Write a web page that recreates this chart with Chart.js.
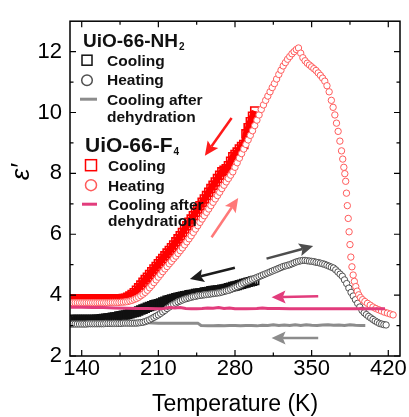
<!DOCTYPE html>
<html>
<head>
<meta charset="utf-8">
<script src="https://cdn.jsdelivr.net/npm/chart.js@4"></script>
<style>
  html, body { margin: 0; padding: 0; background: #fff; }
  canvas { display: block; }
</style>
</head>
<body>
<canvas id="myChart" width="409" height="417"></canvas>
<script>
// temperature grid (K) shared by the densely sampled curves
var tGrid = [
  130,132,134,136,138,140,142,144,146,148,
  150,152,154,156,158,160,162,164,166,168,
  170,172,174,176,178,180,182,184,186,188,
  190,192,194,196,198,200,202,204,206,208,
  210,212,214,216,218,220,222,224,226,228,
  230,232,234,236,238,240,242,244,246,248,
  250,252,254,256,258,260,262,264,266,268,
  270,272,274,276,278,280,282,284,286,288,
  290,292,294,296,298,300,302,304,306,308,
  310,312,314,316,318,320,322,324,326,328,
  330,332,334,336,338,340,342,344,346,348,
  350,352,354,356,358,360,362,364,366,368,
  370,372,374,376,378,380,382,384,386,388,
  390,392,394,396,398,400,402,404,406,408,
  410,412,414,416,418
];

// UiO-66-F4, heating (130 - 366 K on tGrid)
var f4Heating = [
  3.75,3.75,3.75,3.75,3.75,3.75,3.75,3.75,3.75,3.75,
  3.75,3.75,3.75,3.75,3.75,3.75,3.75,3.75,3.76,3.76,
  3.76,3.76,3.76,3.77,3.77,3.78,3.79,3.81,3.83,3.86,
  3.89,3.93,3.98,4.03,4.09,4.16,4.24,4.32,4.41,4.5,
  4.59,4.68,4.77,4.86,4.94,5.03,5.11,5.2,5.28,5.37,
  5.46,5.55,5.65,5.75,5.85,5.95,6.06,6.17,6.28,6.39,
  6.5,6.61,6.72,6.83,6.94,7.05,7.16,7.27,7.38,7.5,
  7.61,7.72,7.83,7.94,8.05,8.2,8.35,8.5,8.65,8.8,
  8.95,9.1,9.25,9.4,9.57,9.75,9.92,10.1,10.25,10.4,
  10.54,10.68,10.82,10.95,11.1,11.25,11.39,11.53,11.64,11.75,
  11.84,11.93,12.0,12.07,12.12,11.95,11.8,11.7,11.62,11.56,
  11.5,11.44,11.38,11.3,11.22,11.13,11.03,10.88,10.68
];
// UiO-66-F4, heating, sparse high-temperature tail
var f4HeatingTailT = [
  368,369.6,371.2,372.7,374.2,375.8,377.3,378.4,379.4,380.3,
  381.1,381.8,382.6,383.4,384.2,385.0,385.8,386.8,387.9,389.0,
  390.3,391.6,393.0,394.6,396.5,398.6,401,403.5,406,408.6,
  411.2,413.8,416.5,419.2,421.8,424.4
];
var f4HeatingTail = [
  10.4,10.17,9.92,9.65,9.38,9.06,8.74,8.47,8.2,7.99,
  7.74,7.35,6.94,6.52,6.08,5.66,5.25,4.93,4.66,4.45,
  4.28,4.13,4.01,3.92,3.85,3.79,3.73,3.67,3.61,3.56,
  3.52,3.48,3.44,3.41,3.38,3.35
];
// UiO-66-F4, cooling (130 - 298 K on tGrid)
var f4Cooling = [
  3.87,3.87,3.87,3.87,3.87,3.87,3.87,3.87,3.87,3.87,
  3.87,3.87,3.87,3.87,3.87,3.87,3.87,3.87,3.87,3.87,
  3.87,3.87,3.88,3.88,3.89,3.9,3.93,3.97,4.02,4.08,
  4.16,4.24,4.33,4.42,4.51,4.59,4.68,4.77,4.86,4.94,
  5.03,5.12,5.2,5.29,5.38,5.47,5.56,5.65,5.75,5.85,
  5.95,6.06,6.17,6.28,6.39,6.5,6.61,6.72,6.83,6.94,
  7.05,7.16,7.27,7.38,7.5,7.61,7.72,7.83,7.94,8.05,
  8.1,8.15,8.25,8.4,8.55,8.62,8.7,8.8,8.88,8.95,
  9.3,9.5,9.7,9.88,10.05
];
// UiO-66-NH2, cooling (130 - 298 K on tGrid)
var nh2Cooling = [
  3.2,3.2,3.2,3.2,3.2,3.2,3.2,3.2,3.2,3.2,
  3.2,3.2,3.21,3.21,3.22,3.23,3.24,3.25,3.26,3.27,
  3.28,3.29,3.31,3.32,3.34,3.35,3.37,3.39,3.41,3.43,
  3.45,3.48,3.51,3.54,3.57,3.6,3.63,3.65,3.68,3.7,
  3.72,3.74,3.77,3.8,3.83,3.85,3.87,3.89,3.91,3.93,
  3.95,3.96,3.98,3.99,4.01,4.02,4.03,4.05,4.06,4.07,
  4.08,4.1,4.11,4.12,4.14,4.15,4.16,4.17,4.18,4.19,
  4.2,4.22,4.24,4.26,4.28,4.3,4.32,4.34,4.36,4.38,
  4.4,4.42,4.44,4.46,4.48
];
// UiO-66-NH2, heating (130 - 418 K on tGrid)
var nh2Heating = [
  3.05,3.05,3.05,3.05,3.05,3.05,3.05,3.05,3.06,3.06,
  3.06,3.06,3.06,3.06,3.06,3.06,3.07,3.07,3.07,3.07,
  3.07,3.07,3.07,3.07,3.08,3.08,3.08,3.08,3.08,3.08,
  3.08,3.09,3.1,3.11,3.13,3.16,3.19,3.23,3.27,3.31,
  3.35,3.4,3.45,3.5,3.56,3.61,3.66,3.7,3.74,3.78,
  3.81,3.84,3.87,3.89,3.91,3.93,3.95,3.96,3.98,3.99,
  4.0,4.01,4.02,4.03,4.04,4.05,4.06,4.07,4.08,4.1,
  4.12,4.14,4.16,4.19,4.22,4.25,4.28,4.32,4.36,4.4,
  4.43,4.46,4.49,4.52,4.55,4.58,4.61,4.64,4.67,4.7,
  4.73,4.76,4.79,4.82,4.85,4.88,4.91,4.94,4.96,4.98,
  5.0,5.03,5.06,5.09,5.11,5.13,5.14,5.14,5.13,5.12,
  5.11,5.1,5.08,5.07,5.05,5.03,5.01,4.98,4.95,4.92,
  4.89,4.83,4.76,4.69,4.62,4.5,4.38,4.23,4.09,3.97,
  3.85,3.73,3.61,3.5,3.42,3.36,3.3,3.25,3.2,3.15,
  3.11,3.07,3.05,3.03,3.02
];
// cooling after dehydration
var nh2DehydT = [130,140,150,160,170,180,190,200,210,220,230,240,246,249,
  255,260,265,270,275,280,285,290,295,300,305,310,315,320,325,330,
  335,340,345,350,355,360,365,370,375,380,385,390,395,399];
var nh2Dehyd = [3.07,3.07,3.08,3.08,3.09,3.09,3.09,3.09,3.08,3.08,3.08,3.08,3.08,3.0,
  2.99,2.99,3.0,2.99,3.0,3.0,2.99,3.0,3.0,2.99,3.01,3.0,3.03,3.0,3.02,3.0,
  3.03,3.0,3.03,3.01,3.0,3.02,3.03,3.01,3.02,3.0,3.03,3.01,3.0,3.0];
var f4DehydT = [130,140,150,160,170,180,190,200,210,
  215,220,225,230,235,240,245,250,255,260,265,270,275,280,
  290,300,305,310,320,330,340,350,360,370,380,390,400,410,417];
var f4Dehyd = [3.6,3.6,3.59,3.59,3.58,3.57,3.56,3.56,3.55,
  3.56,3.59,3.58,3.59,3.56,3.55,3.55,3.56,3.58,3.57,3.59,3.56,3.58,3.55,
  3.55,3.56,3.58,3.56,3.56,3.55,3.55,3.55,3.55,3.55,3.55,3.55,3.55,3.55,3.55];

var xTicks = [140, 210, 280, 350, 420];
var xMinor = [175, 245, 315, 385];
var yTicks = [2, 4, 6, 8, 10, 12];
var yMinor = [3, 5, 7, 9, 11];

// direction arrows, in data units
var arrows = [
  {from: [276.9, 9.82], to: [252.5, 8.58], color: '#ff1a1a'},
  {from: [258.6, 5.90], to: [282.9, 7.19], color: '#ff7878'},
  {from: [279.9, 4.90], to: [238.8, 4.53], color: '#1c1c1c'},
  {from: [308.8, 5.20], to: [351.4, 5.61], color: '#4d4d4d'},
  {from: [356.0, 3.96], to: [313.4, 3.93], color: '#e23c7c'},
  {from: [356.0, 2.59], to: [313.4, 2.59], color: '#8c8c8c'}
];

var FONT = '"Liberation Sans", Arial, sans-serif';
var RED = '#ff0000', LIGHTRED = '#ff5c5c', PINK = '#e23c7c';
var BLACK = '#111111', DARKGREY = '#505050', GREY = '#8c8c8c';

function pts(xs, ys) {
  return ys.map(function (v, i) { return {x: xs[i], y: v}; });
}

var decor = {
  id: 'decor',
  afterDatasetsDraw: function (chart) {
    var ctx = chart.ctx, a = chart.chartArea;
    var sx = chart.scales.x, sy = chart.scales.y;
    ctx.save();

    // arrows
    arrows.forEach(function (ar) {
      var x0 = sx.getPixelForValue(ar.from[0]), y0 = sy.getPixelForValue(ar.from[1]);
      var x1 = sx.getPixelForValue(ar.to[0]), y1 = sy.getPixelForValue(ar.to[1]);
      var ang = Math.atan2(y1 - y0, x1 - x0), hl = 14, hw = 6.5;
      var bx = x1 - hl * Math.cos(ang) * 0.8, by = y1 - hl * Math.sin(ang) * 0.8;
      ctx.strokeStyle = ar.color; ctx.fillStyle = ar.color; ctx.lineWidth = 2.5;
      ctx.beginPath(); ctx.moveTo(x0, y0); ctx.lineTo(bx, by); ctx.stroke();
      ctx.beginPath();
      ctx.moveTo(x1, y1);
      ctx.lineTo(x1 - hl * Math.cos(ang) + hw * Math.sin(ang), y1 - hl * Math.sin(ang) - hw * Math.cos(ang));
      ctx.lineTo(bx, by);
      ctx.lineTo(x1 - hl * Math.cos(ang) - hw * Math.sin(ang), y1 - hl * Math.sin(ang) + hw * Math.cos(ang));
      ctx.closePath(); ctx.fill();
    });

    // legend
    var L = a.left, T = a.top;
    ctx.fillStyle = BLACK;
    ctx.textAlign = 'left'; ctx.textBaseline = 'alphabetic';
    ctx.font = 'bold 19px ' + FONT;
    ctx.fillText('UiO-66-NH', L + 13, T + 26);
    var w1 = ctx.measureText('UiO-66-NH').width;
    ctx.font = 'bold 21px ' + FONT;
    ctx.fillText('UiO-66-F', L + 15, T + 131);
    var w2 = ctx.measureText('UiO-66-F').width;
    ctx.font = 'bold 10px ' + FONT;
    ctx.fillText('2', L + 13 + w1 + 1, T + 29);
    ctx.fillText('4', L + 15 + w2 + 1, T + 134);

    ctx.font = 'bold 15.5px ' + FONT;
    ctx.fillText('Cooling', L + 37, T + 44.5);
    ctx.fillText('Heating', L + 37, T + 64);
    ctx.fillText('Cooling after', L + 37, T + 83.5);
    ctx.fillText('dehydration', L + 37, T + 100.5);
    ctx.fillText('Cooling', L + 38, T + 149.5);
    ctx.fillText('Heating', L + 38, T + 169.5);
    ctx.fillText('Cooling after', L + 38, T + 188.5);
    ctx.fillText('dehydration', L + 38, T + 204.5);

    ctx.lineWidth = 1.5;
    ctx.strokeStyle = BLACK;
    ctx.strokeRect(L + 12, T + 34, 10, 10);
    ctx.strokeStyle = DARKGREY;
    ctx.beginPath(); ctx.arc(L + 17, T + 59, 5.3, 0, 2 * Math.PI); ctx.stroke();
    ctx.strokeStyle = RED;
    ctx.strokeRect(L + 15.5, T + 138.5, 11, 11);
    ctx.strokeStyle = LIGHTRED;
    ctx.beginPath(); ctx.arc(L + 21, T + 164, 5.5, 0, 2 * Math.PI); ctx.stroke();
    ctx.lineWidth = 3;
    ctx.strokeStyle = GREY;
    ctx.beginPath(); ctx.moveTo(L + 10, T + 78); ctx.lineTo(L + 27, T + 78); ctx.stroke();
    ctx.strokeStyle = PINK;
    ctx.beginPath(); ctx.moveTo(L + 12, T + 183); ctx.lineTo(L + 27, T + 183); ctx.stroke();

    // frame with inward ticks on all four sides
    ctx.strokeStyle = '#000'; ctx.lineWidth = 1.5;
    ctx.strokeRect(a.left, a.top, a.right - a.left, a.bottom - a.top);
    ctx.lineWidth = 1.2;
    ctx.beginPath();
    xTicks.concat(xMinor).forEach(function (v) {
      var len = xTicks.indexOf(v) >= 0 ? 6 : 3.5;
      var px = sx.getPixelForValue(v);
      ctx.moveTo(px, a.bottom); ctx.lineTo(px, a.bottom - len);
      ctx.moveTo(px, a.top); ctx.lineTo(px, a.top + len);
    });
    yTicks.concat(yMinor).forEach(function (v) {
      var len = yTicks.indexOf(v) >= 0 ? 6 : 3.5;
      var py = sy.getPixelForValue(v);
      ctx.moveTo(a.left, py); ctx.lineTo(a.left + len, py);
      ctx.moveTo(a.right, py); ctx.lineTo(a.right - len, py);
    });
    ctx.stroke();

    // y axis title
    ctx.translate(22, 172);
    ctx.rotate(-Math.PI / 2);
    ctx.textAlign = 'center'; ctx.textBaseline = 'middle';
    ctx.fillStyle = '#000';
    ctx.font = 'italic 26px ' + FONT;
    ctx.fillText('\u03b5\u2032', 0, 0);
    ctx.restore();
  }
};

var ctx = document.getElementById('myChart').getContext('2d');
var myChart = new Chart(ctx, {
  type: 'scatter',
  data: {
    datasets: [{
        label: 'UiO-66-F4 cooling after dehydration',
        data: pts(f4DehydT, f4Dehyd),
        showLine: true, borderColor: PINK, borderWidth: 3, pointRadius: 0,
        order: 0, clip: 0
      }, {
        label: 'UiO-66-F4 heating',
        data: pts(tGrid, f4Heating).concat(pts(f4HeatingTailT, f4HeatingTail)),
        pointStyle: 'circle', pointRadius: 3.2, pointBorderWidth: 1,
        pointBorderColor: LIGHTRED, pointBackgroundColor: '#ffffff',
        order: 1, clip: 0
      }, {
        label: 'UiO-66-F4 cooling',
        data: pts(tGrid, f4Cooling),
        showLine: true, borderColor: RED, borderWidth: 6.5,
        pointStyle: 'rect', pointRadius: 5.6, pointBorderWidth: 1.6,
        pointBorderColor: RED, pointBackgroundColor: 'rgba(0,0,0,0)',
        order: 2, clip: 0
      }, {
        label: 'UiO-66-NH2 heating',
        data: pts(tGrid, nh2Heating),
        pointStyle: 'circle', pointRadius: 3.2, pointBorderWidth: 1,
        pointBorderColor: DARKGREY, pointBackgroundColor: '#ffffff',
        order: 3, clip: 0
      }, {
        label: 'UiO-66-NH2 cooling',
        data: pts(tGrid, nh2Cooling),
        showLine: true, borderColor: BLACK, borderWidth: 6.5,
        pointStyle: 'rect', pointRadius: 5.6, pointBorderWidth: 1.6,
        pointBorderColor: BLACK, pointBackgroundColor: 'rgba(0,0,0,0)',
        order: 4, clip: 0
      }, {
        label: 'UiO-66-NH2 cooling after dehydration',
        data: pts(nh2DehydT, nh2Dehyd),
        showLine: true, borderColor: GREY, borderWidth: 3, pointRadius: 0,
        order: 5, clip: 0
      }
    ]
  },
  options: {
    responsive: false,
    animation: false,
    devicePixelRatio: 1,
    events: [],
    layout: { padding: { top: 14, right: 9, left: 0, bottom: 0 } },
    plugins: { legend: { display: false }, tooltip: { enabled: false } },
    scales: {
      x: {
        type: 'linear', min: 129.3, max: 430.7,
        afterBuildTicks: function (s) { s.ticks = xTicks.map(function (v) { return {value: v}; }); },
        afterFit: function (s) { s.height = 61; },
        grid: { display: false, drawTicks: false },
        border: { display: false },
        ticks: { padding: 0, color: '#000', maxRotation: 0, autoSkip: false,
                 font: { family: FONT, size: 22 } },
        title: { display: true, text: 'Temperature (K)', color: '#000',
                 font: { family: FONT, size: 23, lineHeight: 1.0 }, padding: { top: 0, bottom: 1 } }
      },
      y: {
        type: 'linear', min: 2, max: 13,
        afterBuildTicks: function (s) { s.ticks = yTicks.map(function (v) { return {value: v}; }); },
        afterFit: function (s) { s.width = 70; },
        grid: { display: false, drawTicks: false },
        border: { display: false },
        ticks: { padding: 8, color: '#000', autoSkip: false,
                 font: { family: FONT, size: 22 } }
      }
    }
  },
  plugins: [decor]
});
</script>
</body>
</html>
